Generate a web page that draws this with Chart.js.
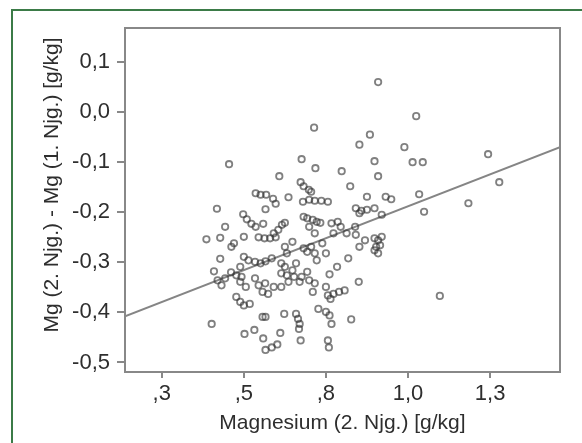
<!DOCTYPE html>
<html>
<head>
<meta charset="utf-8">
<script src="https://cdn.jsdelivr.net/npm/chart.js@4/dist/chart.umd.min.js"></script>
<style>
  html, body { margin: 0; padding: 0; background: #fff; }
  #wrap { position: relative; width: 582px; height: 443px; overflow: hidden; }
  #frame { position: absolute; left: 11px; top: 9px; width: 600px; height: 500px;
           border-left: 2px solid #3b7b47; border-top: 2px solid #3b7b47; }
  #myChart { position: absolute; left: 0; top: 0; filter: blur(0.4px); }
</style>
</head>
<body>
<div id="wrap">
  <div id="frame"></div>
  <canvas id="myChart" width="582" height="443"></canvas>
</div>
<script>
// Magnesium (2. Njg.) [g/kg]
var magnesium2 = [
  0.455,0.418,0.386,0.402,0.428,0.443,0.428,0.409,0.420,0.432,
  0.443,0.462,0.470,0.500,0.498,0.509,0.523,0.500,0.514,0.534,
  0.551,0.566,0.585,0.489,0.461,0.477,0.493,0.489,0.506,0.477,
  0.489,0.500,0.518,0.534,0.545,0.557,0.565,0.574,0.591,0.614,
  0.557,0.566,0.532,0.502,0.559,0.566,0.585,0.602,0.611,0.623,
  0.536,0.551,0.568,0.589,0.597,0.566,0.536,0.559,0.545,0.563,
  0.580,0.597,0.591,0.605,0.616,0.625,0.608,0.636,0.648,0.625,
  0.631,0.614,0.625,0.614,0.631,0.648,0.636,0.653,0.659,0.676,
  0.714,0.718,0.673,0.682,0.698,0.705,0.680,0.699,0.716,0.736,
  0.756,0.682,0.693,0.710,0.722,0.733,0.699,0.716,0.705,0.682,
  0.693,0.716,0.722,0.739,0.750,0.767,0.773,0.786,0.795,0.813,
  0.693,0.676,0.699,0.670,0.716,0.710,0.727,0.761,0.784,0.750,
  0.756,0.773,0.790,0.807,0.764,0.659,0.665,0.670,0.668,0.673,
  0.750,0.761,0.767,0.756,0.759,0.827,0.824,0.852,0.884,0.798,
  0.898,0.909,0.875,0.932,0.949,0.841,0.858,0.875,0.898,0.920,
  0.852,0.839,0.841,0.852,0.869,0.898,0.909,0.920,0.903,0.909,
  0.898,0.915,0.818,0.850,0.989,1.025,1.014,1.045,1.034,1.049,
  0.909,1.097,1.184,1.244,1.278
];
// Mg (2. Njg.) - Mg (1. Njg.) [g/kg]
var mgDifferenz = [
  -0.104,-0.193,-0.254,-0.423,-0.251,-0.229,-0.293,-0.318,-0.336,-0.346,
  -0.332,-0.269,-0.262,-0.249,-0.204,-0.214,-0.223,-0.289,-0.296,-0.299,
  -0.302,-0.298,-0.292,-0.309,-0.320,-0.326,-0.329,-0.339,-0.349,-0.369,
  -0.379,-0.386,-0.383,-0.332,-0.346,-0.359,-0.342,-0.363,-0.349,-0.349,
  -0.409,-0.409,-0.435,-0.443,-0.452,-0.475,-0.470,-0.464,-0.441,-0.403,
  -0.162,-0.165,-0.165,-0.173,-0.183,-0.194,-0.229,-0.223,-0.250,-0.252,
  -0.252,-0.250,-0.242,-0.235,-0.225,-0.221,-0.128,-0.170,-0.259,-0.269,
  -0.282,-0.302,-0.309,-0.322,-0.326,-0.316,-0.339,-0.329,-0.302,-0.094,
  -0.031,-0.112,-0.140,-0.148,-0.155,-0.159,-0.179,-0.175,-0.177,-0.177,
  -0.179,-0.209,-0.212,-0.215,-0.219,-0.221,-0.229,-0.242,-0.269,-0.272,
  -0.279,-0.282,-0.296,-0.262,-0.282,-0.222,-0.242,-0.219,-0.229,-0.242,
  -0.319,-0.329,-0.336,-0.339,-0.342,-0.359,-0.393,-0.324,-0.309,-0.349,
  -0.366,-0.363,-0.359,-0.356,-0.373,-0.403,-0.413,-0.423,-0.433,-0.456,
  -0.399,-0.406,-0.423,-0.456,-0.470,-0.414,-0.148,-0.065,-0.045,-0.118,
  -0.098,-0.128,-0.169,-0.169,-0.174,-0.192,-0.197,-0.195,-0.192,-0.205,
  -0.202,-0.229,-0.245,-0.269,-0.256,-0.252,-0.256,-0.249,-0.269,-0.282,
  -0.276,-0.266,-0.292,-0.339,-0.070,-0.008,-0.100,-0.100,-0.164,-0.199,
  0.060,-0.367,-0.182,-0.084,-0.140
];

// lineare Regression
var fitIntercept = -0.443;
var fitSlope = 0.255;

var xTickValues = [0.25, 0.5, 0.75, 1.0, 1.25];
var xTickLabels = [',3', ',5', ',8', '1,0', '1,3'];
var yTickValues = [-0.5, -0.4, -0.3, -0.2, -0.1, 0.0, 0.1];
var yTickLabels = ['-0,5', '-0,4', '-0,3', '-0,2', '-0,1', '0,0', '0,1'];

var xMin = 0.138, xMax = 1.463;
var yMin = -0.519, yMax = 0.168;

var xTitle = 'Magnesium (2. Njg.) [g/kg]';
var yTitle = 'Mg (2. Njg.) - Mg (1. Njg.) [g/kg]';

var punkte = magnesium2.map(function (x, i) { return { x: x, y: mgDifferenz[i] }; });
var linie = [xMin, xMax].map(function (x) { return { x: x, y: fitIntercept + fitSlope * x }; });

var schrift = "'Liberation Sans', Arial, sans-serif";
var textFarbe = '#2e2e2e';

// Rahmen um die Plotfläche + Achsentitel
var rahmenPlugin = {
    id: 'rahmen',
    afterDraw: function (chart) {
        var c = chart.ctx, a = chart.chartArea;
        c.save();
        c.strokeStyle = '#888';
        c.lineWidth = 2;
        c.strokeRect(a.left, a.top, a.right - a.left, a.bottom - a.top);
        c.fillStyle = textFarbe;
        c.font = '21px ' + schrift;
        c.textAlign = 'center';
        c.textBaseline = 'middle';
        c.fillText(xTitle, (a.left + a.right) / 2, 423);
        c.translate(52, 185);
        c.rotate(-Math.PI / 2);
        c.fillText(yTitle, 0, 0);
        c.restore();
    }
};

var ctx = document.getElementById('myChart');

var myChart = new Chart(ctx, {
    type: 'scatter',
    data: {
        datasets: [{
            type: 'line',
            data: linie,
            borderColor: '#858585',
            borderWidth: 2,
            pointRadius: 0,
            fill: false,
            order: 2
        }, {
            data: punkte,
            backgroundColor: 'rgba(255,255,255,0)',
            borderColor: 'rgba(50,50,50,0.62)',
            borderWidth: 1.8,
            pointRadius: 3.2,
            order: 1
        }]
    },
    options: {
        responsive: false,
        animation: false,
        layout: { padding: { left: 0, top: 28, right: 22, bottom: 0 } },
        plugins: {
            legend: { display: false },
            tooltip: { enabled: false }
        },
        scales: {
            x: {
                type: 'linear',
                min: xMin,
                max: xMax,
                afterBuildTicks: function (scale) {
                    scale.ticks = xTickValues.map(function (v) { return { value: v }; });
                },
                afterFit: function (scale) { scale.height = 71; },
                ticks: {
                    color: textFarbe,
                    font: { family: schrift, size: 22 },
                    padding: 3,
                    maxRotation: 0,
                    callback: function (v, i) { return xTickLabels[i]; }
                },
                grid: { display: true, drawOnChartArea: false, drawTicks: true, tickLength: 6, color: '#888', lineWidth: 2 },
                border: { display: true, color: '#888', width: 2 }
            },
            y: {
                type: 'linear',
                min: yMin,
                max: yMax,
                afterBuildTicks: function (scale) {
                    scale.ticks = yTickValues.map(function (v) { return { value: v }; });
                },
                afterFit: function (scale) { scale.width = 125; },
                ticks: {
                    color: textFarbe,
                    font: { family: schrift, size: 22 },
                    padding: 7,
                    callback: function (v, i) { return yTickLabels[i]; }
                },
                grid: { display: true, drawOnChartArea: false, drawTicks: true, tickLength: 8, color: '#888', lineWidth: 2 },
                border: { display: true, color: '#888', width: 2 }
            }
        }
    },
    plugins: [rahmenPlugin]
});
</script>
</body>
</html>
